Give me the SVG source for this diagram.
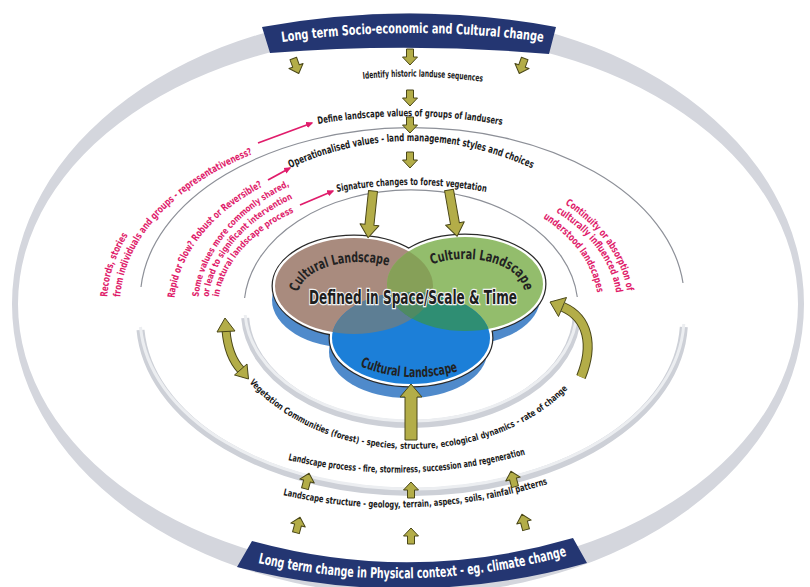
<svg xmlns="http://www.w3.org/2000/svg" width="810" height="587" viewBox="0 0 810 587">
<style>
.f{font-family:"Liberation Sans Narrow","DejaVu Sans Condensed","Liberation Sans",sans-serif;font-weight:bold}
.dk{fill:#1b1b1b}
.pk{fill:#e01c6b}
.wt{fill:#ffffff}
.arr{fill:#b3ad48;stroke:#4a4718;stroke-width:1;stroke-linejoin:round}
.rl{fill:none;stroke:#8d9098;stroke-width:1.2}
.rb{fill:none;stroke:#cdd0d7;stroke-width:8}
.rh{fill:none;stroke:#eceef1;stroke-width:3}
.pa{stroke:#e01c6b;stroke-width:1.8;fill:none}
</style>
<defs>
<path id="sa" d="M-3.5,-8 L3.5,-8 L3.5,0 L7.5,0 L0,8 L-7.5,0 L-3.5,0 Z"/>
<marker id="ph" viewBox="0 0 10 10" refX="8" refY="5" markerWidth="4" markerHeight="4" orient="auto"><path d="M0,0.5 L10,5 L0,9.5 Z" fill="#e01c6b"/></marker>
<path id="tpTop" d="M282,42 Q410,24 545,42"/>
<path id="tpBot" d="M258,563 Q410,597 566,556"/>
<path id="tpId" d="M363,79 Q420,73 484,82"/>
<path id="tpDef" d="M318,124 Q410,108 502,125"/>
<path id="tpOp" d="M290,168 Q410,114 531,168"/>
<path id="tpSig" d="M337,192 Q411,178 486,192"/>
<path id="tpVeg" d="M248,381 A195,149 0 0 0 576,380"/>
<path id="tpProc" d="M288,460 Q407,488 527,454"/>
<path id="tpStr" d="M283,495 Q412,525 548,484"/>
<path id="tpR1" d="M107,305 A305,192 0 0 1 412,113"/>
<path id="tpR2" d="M120,305 A292,180 0 0 1 412,125"/>
<path id="tpR3" d="M174,308 A238,156 0 0 1 412,152"/>
<path id="tpR4" d="M198,308 A214,149 0 0 1 412,159"/>
<path id="tpR5" d="M208,308 A204,135 0 0 1 412,173"/>
<path id="tpR6" d="M218,308 A194,121 0 0 1 412,187"/>
<path id="tpC1" d="M565,204 A216,143 0 0 1 628,305"/>
<path id="tpC2" d="M556,212 A205,130 0 0 1 617,305"/>
<path id="tpC3" d="M543,218 A186,122 0 0 1 598,305"/>
<path id="tpV1" d="M298,295 A62,33 0 0 1 422,295"/>
<path id="tpV2" d="M432,264.6 A59,33 0 0 1 524,292 L524,300"/>
<path id="tpV3" d="M360,366 Q407,386 462,370"/>
<clipPath id="cBrown"><ellipse cx="354" cy="286" rx="79" ry="48"/></clipPath>
<clipPath id="cGreen"><ellipse cx="465" cy="284" rx="78" ry="47"/></clipPath>
<clipPath id="cBG"><ellipse cx="465" cy="284" rx="78" ry="47" clip-path="url(#cBrown)"/></clipPath>
</defs>
<rect width="810" height="587" fill="#ffffff"/>

<g id="outer-ring">
<path fill="#d4d6dd" fill-rule="evenodd" d="M12,304 a396,291 0 1 0 792,0 a396,291 0 1 0 -792,0 Z M18,304 a390,269 0 1 0 780,0 a390,269 0 1 0 -780,0 Z"/>
</g>

<g id="banner-top">
<path fill="#243672" d="M262,27 Q410,0 556,27 L549,54 Q410,42 270,53 Z"/>
<text class="f wt" font-size="14"><textPath href="#tpTop" textLength="262" lengthAdjust="spacingAndGlyphs">Long term Socio-economic and Cultural change</textPath></text>
</g>

<g id="banner-bottom">
<path fill="#243672" d="M252,541 Q412,585 573,538 L587,563 Q412,612 237,567 Z"/>
<text class="f wt" font-size="14.5"><textPath href="#tpBot" textLength="312" lengthAdjust="spacingAndGlyphs">Long term change in Physical context - eg. climate change</textPath></text>
</g>

<g id="rings">
<path class="rl" d="M141,287 A272,172 0 0 1 683,283"/>
<path class="rb" d="M140.5,330 A272,172 0 0 0 683.8,327"/>
<path class="rh" d="M140.5,327 A272,172 0 0 0 683.8,324"/>
<path class="rl" d="M244.6,298 A167,118 0 0 1 577.3,297"/>
<path class="rb" d="M245.2,318 A166,112 0 0 0 576.9,315"/>
<path class="rh" d="M245.2,315 A166,112 0 0 0 576.9,312"/>
</g>

<g id="venn">
<g transform="translate(-3,14)" fill="#4f8acb">
<ellipse cx="354" cy="286" rx="79" ry="48"/>
<ellipse cx="465" cy="284" rx="78" ry="47"/>
<ellipse cx="411" cy="338" rx="79" ry="46"/>
</g>
<g fill="none" stroke="#2a2a2a" stroke-width="7">
<ellipse cx="354" cy="286" rx="79" ry="48"/>
<ellipse cx="465" cy="284" rx="78" ry="47"/>
<ellipse cx="411" cy="338" rx="79" ry="46"/>
</g>
<g fill="none" stroke="#ffffff" stroke-width="4.5">
<ellipse cx="354" cy="286" rx="79" ry="48"/>
<ellipse cx="465" cy="284" rx="78" ry="47"/>
<ellipse cx="411" cy="338" rx="79" ry="46"/>
</g>
<ellipse cx="354" cy="286" rx="79" ry="48" fill="#a98b7e"/>
<ellipse cx="465" cy="284" rx="78" ry="47" fill="#93bd6c"/>
<ellipse cx="411" cy="338" rx="79" ry="46" fill="#1c7fd8"/>
<ellipse cx="465" cy="284" rx="78" ry="47" fill="#86a058" clip-path="url(#cBrown)"/>
<ellipse cx="411" cy="338" rx="79" ry="46" fill="#5d7e94" clip-path="url(#cBrown)"/>
<ellipse cx="411" cy="338" rx="79" ry="46" fill="#2f8e73" clip-path="url(#cGreen)"/>
<ellipse cx="411" cy="338" rx="79" ry="46" fill="#4f8a62" clip-path="url(#cBG)"/>
<text class="f" font-size="14" fill="#222"><textPath href="#tpV1" startOffset="3" textLength="102" lengthAdjust="spacingAndGlyphs">Cultural Landscape</textPath></text>
<text class="f" font-size="14" fill="#222"><textPath href="#tpV2" textLength="106" lengthAdjust="spacingAndGlyphs">Cultural Landscape</textPath></text>
<text class="f" font-size="14" fill="#222"><textPath href="#tpV3" textLength="100" lengthAdjust="spacingAndGlyphs">Cultural Landscape</textPath></text>
<text class="f" font-size="19" fill="#1e1e1e" stroke="#f2f2f2" stroke-width="2.5" paint-order="stroke" x="413" y="304" text-anchor="middle" textLength="208" lengthAdjust="spacingAndGlyphs">Defined in Space/Scale &amp; Time</text>
</g>

<g id="labels-top">
<text class="f dk" font-size="9.5"><textPath href="#tpId" textLength="120" lengthAdjust="spacingAndGlyphs">Identify historic landuse sequences</textPath></text>
<text class="f dk" font-size="10"><textPath href="#tpDef" textLength="185" lengthAdjust="spacingAndGlyphs">Define landscape values of groups of landusers</textPath></text>
<text class="f dk" font-size="10.5"><textPath href="#tpOp" textLength="250" lengthAdjust="spacingAndGlyphs">Operationalised values - land management styles and choices</textPath></text>
<text class="f dk" font-size="10"><textPath href="#tpSig" textLength="150" lengthAdjust="spacingAndGlyphs">Signature changes to forest vegetation</textPath></text>
</g>

<g id="labels-bottom">
<text class="f dk" font-size="9"><textPath href="#tpVeg" startOffset="2" textLength="352" lengthAdjust="spacingAndGlyphs">Vegetation Communities (forest) - species, structure, ecological dynamics - rate of change</textPath></text>
<text class="f dk" font-size="9.5"><textPath href="#tpProc" textLength="240" lengthAdjust="spacingAndGlyphs">Landscape process - fire, stormiress, succession and regeneration</textPath></text>
<text class="f dk" font-size="9.5"><textPath href="#tpStr" textLength="268" lengthAdjust="spacingAndGlyphs">Landscape structure - geology, terrain, aspecs, soils, rainfall patterns</textPath></text>
</g>

<g id="notes-left">
<text class="f pk" font-size="10"><textPath href="#tpR1" startOffset="8" textLength="66" lengthAdjust="spacingAndGlyphs">Records, stories</textPath></text>
<text class="f pk" font-size="10"><textPath href="#tpR2" startOffset="8" textLength="205" lengthAdjust="spacingAndGlyphs">from individuals and groups - representativeness?</textPath></text>
<text class="f pk" font-size="10"><textPath href="#tpR3" startOffset="10" textLength="148" lengthAdjust="spacingAndGlyphs">Rapid or Slow? Robust or Reversible?</textPath></text>
<text class="f pk" font-size="9"><textPath href="#tpR4" startOffset="11" textLength="150" lengthAdjust="spacingAndGlyphs">Some values more commonly shared,</textPath></text>
<text class="f pk" font-size="9"><textPath href="#tpR5" startOffset="11" textLength="135" lengthAdjust="spacingAndGlyphs">or lead to significant intervention</textPath></text>
<text class="f pk" font-size="9"><textPath href="#tpR6" startOffset="11" textLength="118" lengthAdjust="spacingAndGlyphs">in natural landscape process</textPath></text>
</g>

<g id="notes-right">
<text class="f pk" font-size="10"><textPath href="#tpC1" textLength="110" lengthAdjust="spacingAndGlyphs">Continuity or absorption of</textPath></text>
<text class="f pk" font-size="10"><textPath href="#tpC2" textLength="104" lengthAdjust="spacingAndGlyphs">culturally influenced and</textPath></text>
<text class="f pk" font-size="10"><textPath href="#tpC3" textLength="95" lengthAdjust="spacingAndGlyphs">understood landscapes</textPath></text>
</g>

<g id="connectors">
<use href="#sa" class="arr" transform="translate(296,66) rotate(-20)"/>
<use href="#sa" class="arr" transform="translate(410,57)"/>
<use href="#sa" class="arr" transform="translate(522,66) rotate(20)"/>
<use href="#sa" class="arr" transform="translate(410,98)"/>
<use href="#sa" class="arr" transform="translate(410,125)"/>
<use href="#sa" class="arr" transform="translate(410,160)"/>
<path class="arr" transform="translate(373,191) rotate(6)" d="M-4.5,0 L4.5,0 L4.5,34 L9.5,34 L0,47 L-9.5,34 L-4.5,34 Z"/>
<path class="arr" transform="translate(449,190) rotate(-10)" d="M-4.5,0 L4.5,0 L4.5,34 L9.5,34 L0,47 L-9.5,34 L-4.5,34 Z"/>
<path class="arr" transform="translate(411,440) rotate(180)" d="M-6,0 L6,0 L6,43 L11,43 L0,56 L-11,43 L-6,43 Z"/>
<use href="#sa" class="arr" transform="translate(307,481) rotate(195)"/>
<use href="#sa" class="arr" transform="translate(411,490) rotate(180)"/>
<use href="#sa" class="arr" transform="translate(513,479) rotate(165)"/>
<use href="#sa" class="arr" transform="translate(298,525) rotate(195)"/>
<use href="#sa" class="arr" transform="translate(411,536) rotate(180)"/>
<use href="#sa" class="arr" transform="translate(524,522) rotate(165)"/>
<path d="M581,377 C594,345 588,318 563,307" fill="none" stroke="#4a4718" stroke-width="10"/>
<path d="M581,377 C594,345 588,318 563,307" fill="none" stroke="#b3ad48" stroke-width="8"/>
<path class="arr" d="M566.5,297.5 L550,302 L558.5,316.5 Z"/>
<path d="M226,330 Q228,356 241,370" fill="none" stroke="#4a4718" stroke-width="9"/>
<path d="M226,330 Q228,356 241,370" fill="none" stroke="#b3ad48" stroke-width="7"/>
<path class="arr" d="M217,332 L225,318 L235,331 Z"/>
<path class="arr" d="M247,364 L248.5,379 L234.5,375 Z"/>
<line class="pa" x1="258" y1="143" x2="312" y2="123" marker-end="url(#ph)"/>
<line class="pa" x1="268" y1="180" x2="290" y2="168" marker-end="url(#ph)"/>
<line class="pa" x1="300" y1="205" x2="333" y2="191" marker-end="url(#ph)"/>
</g>
</svg>
